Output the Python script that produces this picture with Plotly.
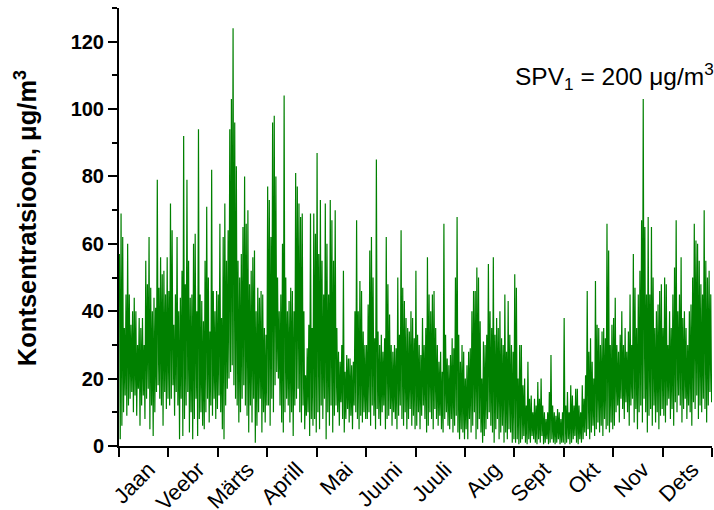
import plotly.graph_objects as go

months = ["Jaan", "Veebr", "Märts", "Aprill", "Mai", "Juuni",
          "Juuli", "Aug", "Sept", "Okt", "Nov", "Dets"]

# daily high / low concentrations (µg/m3), per month
jan_hi = [57, 69, 62, 35, 45, 60, 45, 36, 40, 44, 40, 30, 38, 35, 38, 30, 55, 48, 62, 47, 40, 44, 41, 79, 47, 56, 51, 52, 45, 56]
jan_lo = [2, 6, 10, 15, 9, 12, 14, 16, 10, 15, 9, 17, 6, 12, 15, 8, 14, 17, 5, 12, 3, 10, 16, 18, 14, 12, 6, 16, 11, 14]
feb_hi = [46, 72, 64, 36, 45, 62, 40, 44, 52, 92, 48, 79, 55, 44, 45, 60, 63, 40, 94, 45, 43, 37, 55, 71, 50, 34, 82, 46, 40, 46]
feb_lo = [12, 14, 18, 9, 16, 12, 2, 14, 3, 8, 12, 16, 4, 10, 2, 8, 14, 3, 8, 10, 6, 5, 10, 14, 7, 12, 9, 14, 8, 11]
mar_hi = [45, 66, 38, 62, 72, 55, 64, 94, 103, 124, 96, 83, 55, 50, 57, 65, 80, 66, 70, 48, 52, 56, 58, 40, 47, 44, 46, 45, 35, 33]
mar_lo = [15, 10, 5, 2, 12, 17, 20, 22, 24, 18, 14, 12, 7, 10, 14, 18, 12, 9, 4, 12, 7, 14, 1, 6, 10, 14, 4, 10, 7, 12]
apr_hi = [77, 73, 62, 96, 98, 80, 50, 40, 45, 60, 104, 50, 40, 43, 47, 46, 40, 81, 77, 72, 68, 69, 40, 21, 29, 36, 69, 35, 69, 63]
apr_lo = [12, 6, 14, 10, 18, 22, 20, 12, 7, 4, 10, 14, 12, 7, 10, 3, 12, 14, 17, 10, 7, 12, 5, 9, 10, 3, 8, 6, 8, 4]
may_hi = [87, 57, 73, 55, 45, 72, 60, 45, 73, 67, 55, 70, 35, 28, 25, 30, 52, 22, 27, 26, 26, 24, 25, 40, 67, 40, 49, 46, 34, 30]
may_lo = [10, 5, 12, 8, 14, 2, 10, 6, 12, 4, 9, 12, 10, 6, 13, 8, 4, 8, 11, 7, 9, 5, 12, 10, 8, 5, 9, 7, 10, 8]
jun_hi = [30, 42, 58, 62, 50, 32, 85, 34, 30, 33, 28, 32, 62, 48, 39, 30, 28, 30, 29, 50, 33, 64, 47, 43, 38, 35, 34, 40, 38, 32]
jun_lo = [8, 10, 6, 12, 9, 5, 11, 8, 6, 10, 12, 5, 8, 9, 11, 6, 10, 8, 5, 9, 12, 8, 6, 10, 5, 8, 11, 6, 9, 5]
jul_hi = [52, 33, 30, 27, 38, 30, 35, 56, 45, 40, 45, 46, 35, 30, 25, 28, 22, 66, 33, 26, 24, 27, 32, 29, 50, 68, 33, 25, 30, 28]
jul_lo = [6, 10, 5, 9, 12, 8, 4, 6, 10, 8, 5, 11, 8, 6, 9, 5, 4, 8, 10, 6, 5, 8, 4, 6, 9, 4, 2, 5, 4, 2]
aug_hi = [20, 24, 28, 29, 40, 46, 46, 53, 50, 37, 20, 31, 30, 33, 54, 40, 35, 56, 33, 38, 35, 40, 32, 30, 45, 28, 43, 33, 30, 28]
aug_lo = [5, 2, 8, 4, 6, 10, 2, 5, 8, 4, 1, 3, 5, 8, 10, 6, 4, 1, 5, 8, 2, 4, 6, 1, 4, 2, 5, 4, 1, 2]
sep_hi = [51, 47, 20, 30, 30, 18, 20, 12, 25, 14, 15, 10, 14, 12, 19, 14, 20, 12, 10, 8, 10, 16, 27, 12, 10, 9, 11, 10, 8, 10]
sep_lo = [1, 2, 0.5, 1, 2, 3, 1, 0.5, 2, 1, 3, 2, 1, 0.5, 2, 1, 3, 0.5, 1, 2, 0.5, 1, 2, 1, 0.5, 1, 2, 0.5, 1, 1]
oct_hi = [38, 12, 16, 10, 18, 15, 12, 17, 17, 12, 10, 18, 14, 21, 46, 28, 32, 25, 20, 49, 36, 35, 30, 34, 35, 32, 66, 58, 30, 36]
oct_lo = [0.5, 1, 2, 0.5, 1, 2, 3, 1, 0.5, 2, 1, 2, 4, 3, 5, 2, 4, 6, 3, 5, 7, 4, 6, 3, 8, 5, 6, 4, 7, 5]
nov_hi = [38, 44, 30, 28, 33, 40, 30, 35, 28, 34, 45, 30, 57, 47, 35, 45, 52, 67, 103, 65, 45, 68, 45, 65, 50, 35, 40, 42, 46, 48]
nov_lo = [6, 10, 12, 7, 14, 11, 8, 13, 10, 6, 12, 14, 7, 11, 5, 10, 12, 7, 14, 10, 4, 9, 11, 6, 12, 7, 10, 5, 9, 11]
dec_hi = [35, 50, 48, 30, 40, 35, 45, 53, 67, 40, 45, 56, 38, 40, 35, 30, 40, 42, 50, 66, 61, 60, 55, 48, 45, 70, 55, 50, 52, 45]
dec_lo = [9, 7, 12, 14, 8, 11, 6, 13, 10, 15, 12, 7, 11, 14, 8, 12, 10, 6, 13, 11, 15, 8, 12, 10, 14, 11, 7, 12, 16, 13]

highs = [jan_hi, feb_hi, mar_hi, apr_hi, may_hi, jun_hi, jul_hi, aug_hi, sep_hi, oct_hi, nov_hi, dec_hi]
lows = [jan_lo, feb_lo, mar_lo, apr_lo, may_lo, jun_lo, jul_lo, aug_lo, sep_lo, oct_lo, nov_lo, dec_lo]

# time axis in months (each month drawn with equal width, as in the original)
xs, ys = [], []
for m, (hi, lo) in enumerate(zip(highs, lows)):
    n = len(hi)
    for i in range(n):
        xs.append(m + (i + 0.25) / n)
        ys.append(hi[i])
        xs.append(m + (i + 0.75) / n)
        ys.append(lo[i])

FONT = "Liberation Sans, Arial, sans-serif"

fig = go.Figure()
fig.add_trace(go.Scatter(x=xs, y=ys, mode="lines",
                         line=dict(color="#008000", width=1.2),
                         hoverinfo="skip", showlegend=False))

fig.update_layout(
    width=714, height=510,
    margin=dict(l=119, r=2, t=8, b=64),
    paper_bgcolor="white", plot_bgcolor="white",
    font=dict(family=FONT, color="black"),
    xaxis=dict(
        range=[0, 12], showgrid=False, zeroline=False, automargin=False,
        showline=True, linecolor="black", linewidth=2,
        tickmode="array", tickvals=[i + 0.5 for i in range(12)], ticktext=months,
        ticks="", ticklabelshift=5,
        tickangle=-45, tickfont=dict(family=FONT, size=22, color="black"),
        minor=dict(tickmode="linear", tick0=0, dtick=1, ticks="outside",
                   ticklen=9, tickwidth=2, tickcolor="black", showgrid=False),
    ),
    yaxis=dict(
        range=[0, 130], showgrid=False, zeroline=False, automargin=False,
        showline=True, linecolor="black", linewidth=2,
        tickmode="linear", tick0=0, dtick=20,
        ticks="outside", ticklen=9, tickwidth=2, tickcolor="black",
        tickfont=dict(family=FONT, size=20, color="black", weight="bold"),
        minor=dict(tickmode="linear", tick0=0, dtick=10, ticks="outside",
                   ticklen=5, tickwidth=2, tickcolor="black", showgrid=False),
    ),
    annotations=[
        dict(text="<b>Kontsentratsioon, μg/m<sup>3</sup></b>", textangle=-90,
             xref="paper", yref="paper", x=-0.157, y=0.52,
             xanchor="center", yanchor="middle", showarrow=False,
             font=dict(family=FONT, size=25.5, color="black")),
        dict(text="SPV<sub>1</sub> = 200 μg/m<sup>3</sup>",
             xref="paper", yref="paper", x=0.664, y=0.843,
             xanchor="left", yanchor="middle", showarrow=False,
             font=dict(family=FONT, size=24.5, color="black")),
    ],
)

fig.write_html("out.html", config={"displayModeBar": False},
               post_script="document.body.style.margin='0';document.body.style.padding='0';")
